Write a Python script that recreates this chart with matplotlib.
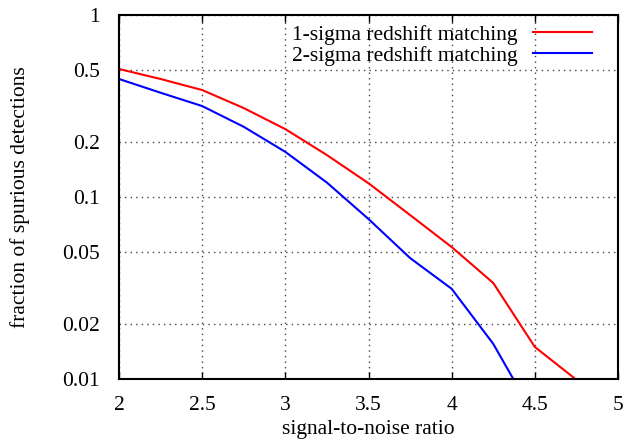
import matplotlib
matplotlib.use("Agg")
import matplotlib.pyplot as plt
from matplotlib.ticker import FixedLocator, FixedFormatter, NullLocator

snr = [2.0, 2.25, 2.5, 2.75, 3.0, 3.25, 3.5, 3.75, 4.0, 4.25, 4.5, 4.75, 5.0]
frac_1sigma = [0.505, 0.445, 0.387, 0.308, 0.236, 0.170, 0.119, 0.0796, 0.0531, 0.0337, 0.0150, 0.0099, 0.0060]
frac_2sigma = [0.445, 0.374, 0.316, 0.243, 0.177, 0.120, 0.0757, 0.0462, 0.0313, 0.0156, 0.0062, 0.0030, 0.0015]

xticks = [2, 2.5, 3, 3.5, 4, 4.5, 5]
xtick_labels = ["2", "2.5", "3", "3.5", "4", "4.5", "5"]
yticks = [0.01, 0.02, 0.05, 0.1, 0.2, 0.5, 1]
ytick_labels = ["0.01", "0.02", "0.05", "0.1", "0.2", "0.5", "1"]

plt.rcParams['font.family'] = ['Liberation Serif', 'DejaVu Serif']
fs = 15.5

fig = plt.figure(figsize=(6.28, 4.45), dpi=100)
ax = fig.add_axes([119/628, 1 - 379/445, (618-119)/628, (379-15)/445])

ax.plot(snr, frac_1sigma, color='#ff0000', lw=1.5, label='1-sigma redshift matching')
ax.plot(snr, frac_2sigma, color='#0000ff', lw=1.5, label='2-sigma redshift matching')

ax.set_yscale('log')
ax.set_xlim(2, 5)
ax.set_ylim(0.01, 1)

ax.xaxis.set_major_locator(FixedLocator(xticks))
ax.xaxis.set_major_formatter(FixedFormatter(xtick_labels))
ax.yaxis.set_major_locator(FixedLocator(yticks))
ax.yaxis.set_major_formatter(FixedFormatter(ytick_labels))
ax.xaxis.set_minor_locator(NullLocator())
ax.yaxis.set_minor_locator(NullLocator())

ax.tick_params(axis='x', direction='in', length=5, width=1, top=True, labelsize=fs, pad=12)
ax.tick_params(axis='y', direction='in', length=0, labelsize=fs, pad=14)

ax.grid(True, which='major', color='#444444', linestyle=(0, (1, 3)), lw=1.0)

for s in ax.spines.values():
    s.set_linewidth(1.5)
    s.set_color('black')

ax.set_xlabel('signal-to-noise ratio', fontsize=fs, labelpad=4)
ax.set_ylabel('fraction of spurious detections', fontsize=fs, labelpad=23)

leg = ax.legend(loc='upper right', frameon=False, markerfirst=False, fontsize=fs,
                handlelength=2.75, handletextpad=0.7, borderaxespad=0.0, borderpad=0.0,
                labelspacing=0.05, bbox_to_anchor=(0.948, 0.974))

fig.savefig('out.png', dpi=100)
